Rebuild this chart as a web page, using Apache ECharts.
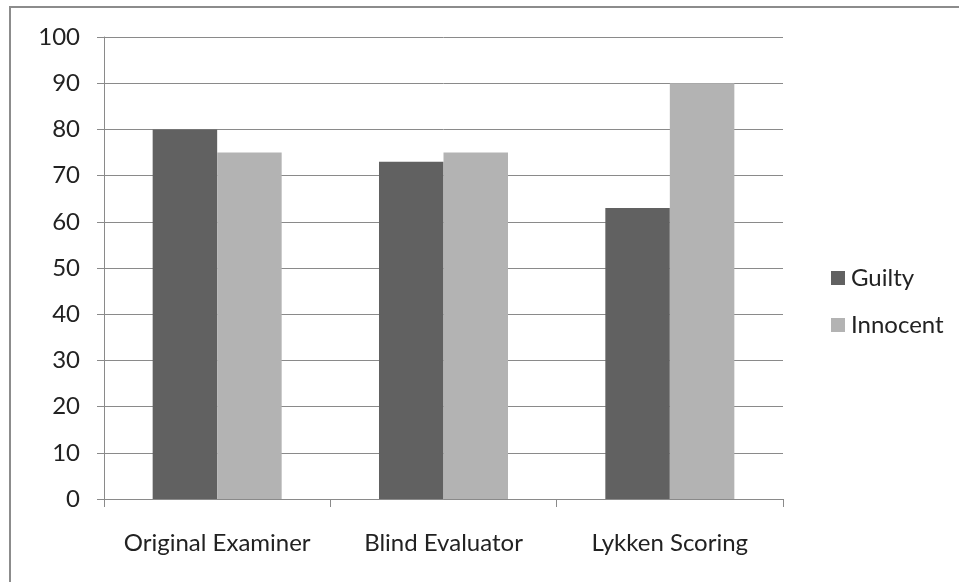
<!DOCTYPE html>
<html>
<head>
<meta charset="utf-8">
<style>
  html, body { margin: 0; padding: 0; background: #fff; }
  #chart { width: 959px; height: 582px; }
</style>
<script src="https://cdn.jsdelivr.net/npm/echarts@6/dist/echarts.min.js"></script>
</head>
<body>
<div id="chart"></div>
<script>
// Scoring methods compared for guilty and innocent cases
const categories = ['Original Examiner', 'Blind Evaluator', 'Lykken Scoring'];
const guilty = [80, 73, 63];
const innocent = [75, 75, 90];
const yTicks = { min: 0, max: 100, step: 10 };

const FONT = 'Lato, "Open Sans", sans-serif';
const chart = echarts.init(document.getElementById('chart'), null, { renderer: 'canvas' });

chart.setOption({
  backgroundColor: '#ffffff',
  animation: false,
  textStyle: { fontFamily: FONT },
  // outer frame: only the top and left edges are visible
  graphic: [{
    type: 'rect',
    shape: { x: 10, y: 7, width: 1200, height: 1200 },
    style: { fill: 'none', stroke: '#8c8c8c', lineWidth: 2 },
    silent: true
  }],
  grid: { left: 104, right: 176, top: 37, bottom: 83, containLabel: false },
  legend: {
    orient: 'vertical',
    left: 826,
    top: 261,
    itemWidth: 14,
    itemHeight: 14,
    itemGap: 23,
    icon: 'rect',
    textStyle: { fontFamily: FONT, fontSize: 24, color: '#222', padding: [0, 0, 0, 1] },
    data: ['Guilty', 'Innocent']
  },
  xAxis: {
    type: 'category',
    data: categories,
    axisLine: { lineStyle: { color: '#8a8a8a', width: 1 } },
    axisTick: { show: true, length: 8, alignWithLabel: false, lineStyle: { color: '#8a8a8a' } },
    axisLabel: { fontFamily: FONT, fontSize: 24, color: '#222', margin: 32, interval: 0, hideOverlap: false }
  },
  yAxis: {
    type: 'value',
    min: yTicks.min,
    max: yTicks.max,
    interval: yTicks.step,
    axisLine: { show: true, lineStyle: { color: '#8a8a8a', width: 1 } },
    axisTick: { show: true, length: 7, lineStyle: { color: '#8a8a8a' } },
    axisLabel: { fontFamily: FONT, fontSize: 24, color: '#222', margin: 24 },
    splitLine: { show: true, lineStyle: { color: '#8a8a8a', width: 1 } }
  },
  series: [
    {
      name: 'Guilty',
      type: 'bar',
      data: guilty,
      barGap: '0%',
      barCategoryGap: '43%',
      itemStyle: { color: '#616161' }
    },
    {
      name: 'Innocent',
      type: 'bar',
      data: innocent,
      barGap: '0%',
      barCategoryGap: '43%',
      itemStyle: { color: '#b3b3b3' }
    }
  ]
});
</script>
</body>
</html>
